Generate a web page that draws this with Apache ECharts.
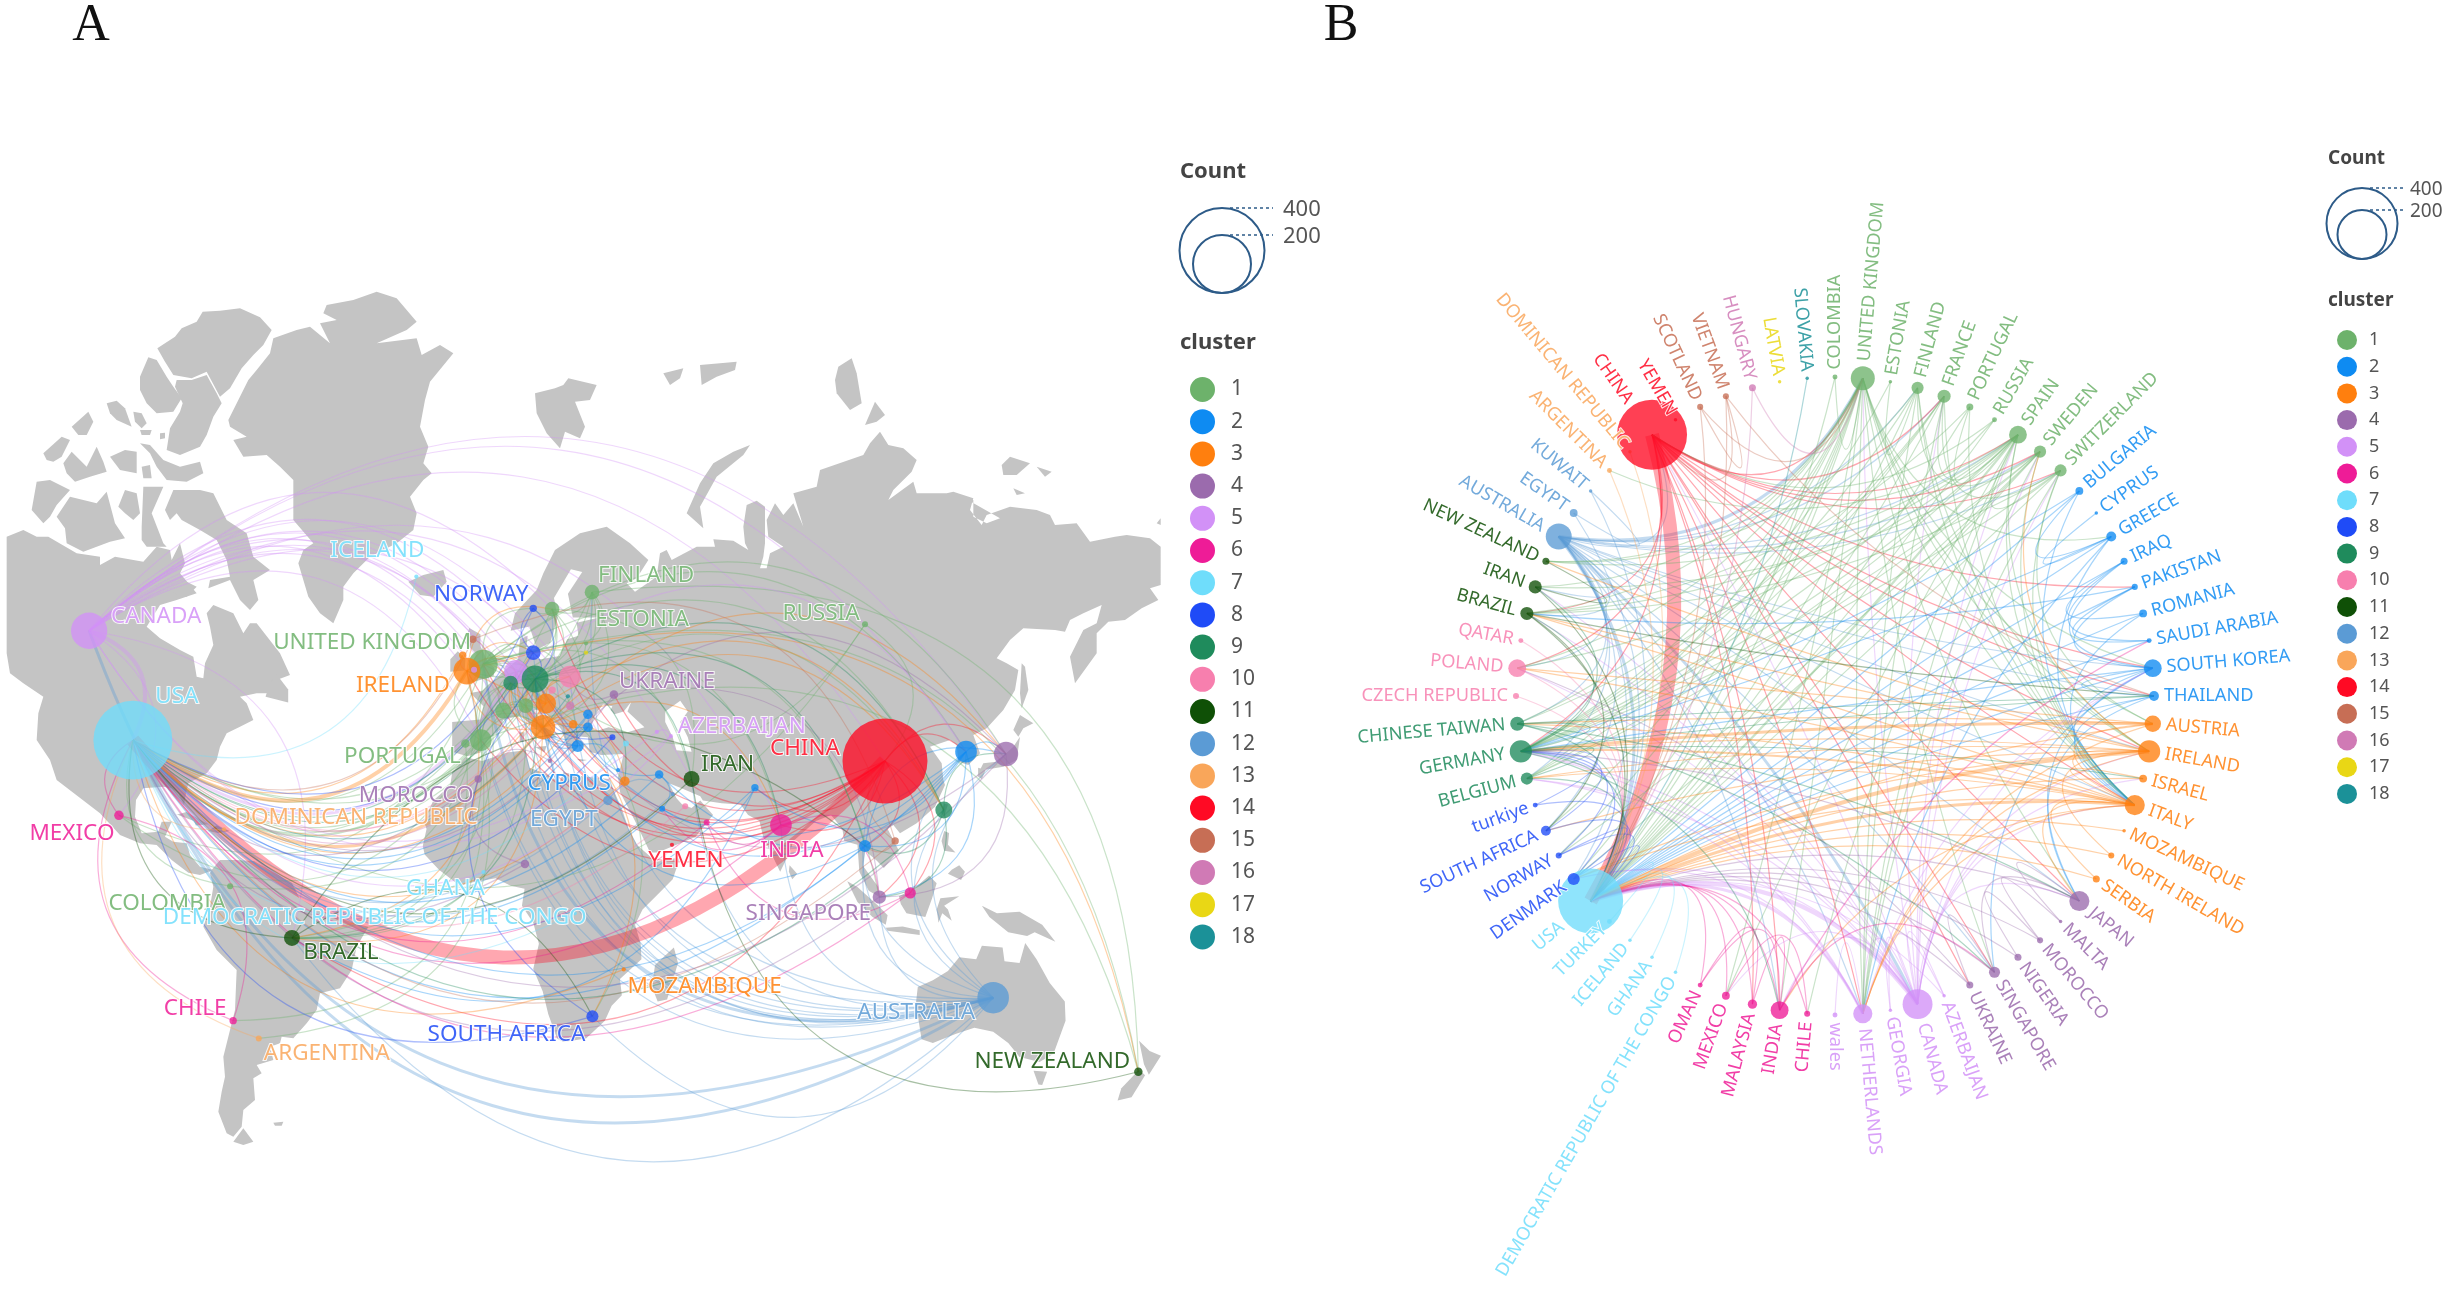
<!DOCTYPE html>
<html>
<head>
<meta charset="utf-8">
<title>Country collaboration network</title>
<style>
  html, body { margin: 0; padding: 0; background: #fff; }
  #chart { width: 2451px; height: 1291px; }
</style>
<script src="https://cdn.jsdelivr.net/npm/echarts@6/dist/echarts.min.js"></script>
</head>
<body>
<div id="chart"></div>
<script>
// countries, in the order they sit on the ring of panel B
const countryNames = ["COLOMBIA","UNITED KINGDOM","ESTONIA","FINLAND","FRANCE","PORTUGAL","RUSSIA","SPAIN","SWEDEN","SWITZERLAND",
  "BULGARIA","CYPRUS","GREECE","IRAQ","PAKISTAN","ROMANIA","SAUDI ARABIA","SOUTH KOREA","THAILAND",
  "AUSTRIA","IRELAND","ISRAEL","ITALY","MOZAMBIQUE","NORTH IRELAND","SERBIA",
  "JAPAN","MALTA","MOROCCO","NIGERIA","SINGAPORE","UKRAINE",
  "AZERBAIJAN","CANADA","GEORGIA","NETHERLANDS","wales",
  "CHILE","INDIA","MALAYSIA","MEXICO","OMAN",
  "DEMOCRATIC REPUBLIC OF THE CONGO","GHANA","ICELAND","TURKEY","USA",
  "DENMARK","NORWAY","SOUTH AFRICA","turkiye",
  "BELGIUM","GERMANY","CHINESE TAIWAN",
  "CZECH REPUBLIC","POLAND","QATAR",
  "BRAZIL","IRAN","NEW ZEALAND",
  "AUSTRALIA","EGYPT","KUWAIT",
  "ARGENTINA","DOMINICAN REPUBLIC",
  "CHINA","YEMEN",
  "SCOTLAND","VIETNAM",
  "HUNGARY","LATVIA","SLOVAKIA"];
const countryCluster = [1,1,1,1,1,1,1,1,1,1, 2,2,2,2,2,2,2,2,2, 3,3,3,3,3,3,3, 4,4,4,4,4,4, 5,5,5,5,5, 6,6,6,6,6, 7,7,7,7,7, 8,8,8,8, 9,9,9, 10,10,10, 11,11,11, 12,12,12, 13,13, 14,14, 15,15, 16,17,18];
const countryCount = [2,47,1,12,14,4,2,26,12,12, 5,1,8,4,3,5,2,26,8, 22,40,5,33,1,3,4, 33,1,3,4,10,4, 1,73,1,30,2, 3,26,7,5,2, 1,1,1,2,345, 12,3,8,2, 12,40,16, 3,26,2, 14,14,4, 55,5,1, 2,1, 400,1, 3,3, 4,1,1];
const countryLon = [-68.4,-1.3,26,27.6,4,-6,100,-1.9,17,10, 26.5,34.5,23.8,45.4,70.8,26.5,46.2,126.8,100, 15.4,-5.6,36.3,14.6,36,-6.7,22.6, 137.4,16.4,-2.6,9.8,103.8,33.4, 48.5,-105.8,44.8,7.4,-3.7, -67.6,77.7,112,-97.9,58, 23,-1.2,-19,36.6,-94.2, 12,12,27.7,33, 6,12.5,120.9, 17,21.7,52.3, -52,54,172.5, 134,31.8,49, -60.8,-70, 105.3,48.8, -4,108, 21.8,26,21.2];
const countryLat = [4.2,53.2,56.4,63.2,45.2,38.7,59.1,39.4,61.1,46.1, 42,33,38.2,32,29,44.5,24,37,14.7, 46.5,52.1,30.5,42,-17.6,54.6,42.6, 36.5,35,31,10,1.3,48.1, 40.2,58.2,41.1,52,52.3, -30,20,2.4,22.4,20.6, -3,7.9,65,38.7,39.4, 55,61.2,-29,40, 50.1,50.8,23.7, 48.9,51.2,24.6, -9.5,31,-41, -24.6,26,27.5, -34,18.9, 35,15, 57,16, 46.1,55,47.8];

const clusterNames = ["1","2","3","4","5","6","7","8","9","10","11","12","13","14","15","16","17","18"];
const clusterColors = ["#6DB26B","#0E8BF2","#FF7F0E","#9B6BAD","#D291F7","#EE1C97","#6FDDFB","#1F4BF7","#1F8B5C","#F77FAE","#0F5006","#5B9BD5","#F9A65A","#FF0A24","#C76E55","#D07AB5","#E9D715","#1B9198"];

// collaboration links: each list holds the partners of one country, coloured by that country
const UK = "UNITED KINGDOM", DE = "GERMANY", IT = "ITALY", ES = "SPAIN", NL = "NETHERLANDS", CA = "CANADA", AU = "AUSTRALIA", FR = "FRANCE", KR = "SOUTH KOREA", JP = "JAPAN", CN = "CHINA", US = "USA", IE = "IRELAND", CH = "SWITZERLAND", SE = "SWEDEN", BR = "BRAZIL", DK = "DENMARK", BE = "BELGIUM", AT = "AUSTRIA", PL = "POLAND", TW = "CHINESE TAIWAN", SG = "SINGAPORE", IN = "INDIA", TH = "THAILAND", ZA = "SOUTH AFRICA", FI = "FINLAND", NO = "NORWAY", IR = "IRAN", NZ = "NEW ZEALAND";
const toAustralia = [US,UK,CA,CN,DE,IT,ES,NL,IE,BR,JP,KR,FI,SE,FR,CH,ZA,DK,TH,TW,SG,IN,IR,PL,BE];
const toCanada = [US,UK,CN,DE,IT,NL,IE,ES,FR,SE,CH,JP,KR,BR,IR,DK,BE,PL,"MEXICO",IN,"ISRAEL"];
const toChina = [US,UK,DE,IT,ES,SE,CH,KR,TH,JP,SG,"PAKISTAN",NL,IE,IN,PL,BR,"UKRAINE","MALAYSIA",FR];
const toUK = [US,DE,IT,IE,NL,DK,BE,AT,ZA,NZ,BR,IR,TW,JP,KR,IN,NO,PL,SG,"GREECE","MEXICO","COLOMBIA"];
const toSpain = [US,DE,IT,IE,NL,BR,"ARGENTINA","CHILE","MEXICO","PORTUGAL",FR,CH,BE,PL,NZ];
const toFinland = [US,DE,IT,SE,NL,IE,"ESTONIA",NZ];
const toFrance = [US,DE,IT,NL,BE,CH,TW];
const toSweden = [US,DE,IT,NL,NO,DK,BE,IR];
const toSwitzerland = [US,DE,IT,AT,NL,BR];
const toPortugal = [US,IT,BR];
const toRussia = [CN,DE,US];
const toColombia = [US];
const toEstonia = [DE];
const toSouthKorea = [US,IT,DE,TH,"PAKISTAN","IRAQ",JP,SG];
const toThailand = [US,JP,IT];
const toGreece = [US,IT,DE,"CYPRUS",NL,"BULGARIA"];
const toBulgaria = [US,DE,IT];
const toIraq = [US,"SAUDI ARABIA","ROMANIA"];
const toPakistan = [BR,US,"SAUDI ARABIA"];
const toRomania = [US,IT];
const toSaudi = [US];
const toItaly = [US,DE,NL,CH,IE,AT,DK,BE,JP,BR,"ISRAEL",IN,PL,TW,"SERBIA"];
const toIreland = [US,DE,NL,SE,BE,"NORTH IRELAND",NZ,ZA,BR,DK];
const toAustria = [US,DE,CH,NL,PL,TW];
const toIsrael = [US];
const toMozambique = [US];
const toNorthIreland = [US];
const toSerbia = [US];
const toJapan = [US,DE,SG];
const toSingapore = [US];
const toMorocco = [US,"MALTA"];
const toNigeria = [US,"MOROCCO"];
const toUkraine = [US,SG,PL];
const toMalta = [JP];
const toNetherlands = [US,DE,BE,FR,SE,CH,DK,KR];
const toGeorgia = [CA,"AZERBAIJAN"];
const toAzerbaijan = [CA,US];
const toWales = [NL];
const toIndia = [US,"MALAYSIA","OMAN",SG,"SAUDI ARABIA"];
const toMexico = [US,"CHILE"];
const toMalaysia = [US,"OMAN"];
const toChile = [US];
const toOman = [US];
const toCongo = [US];
const toGhana = [US];
const toIceland = [US];
const toTurkey = [US];
const toDenmark = [US,DE,SE,NO];
const toNorway = [US,DE];
const toSouthAfrica = [US,DE];
const toTurkiye = [US,DE];
const toGermany = [US,BE,JP,KR,BR,IN,"ISRAEL",IR,TW,"GREECE","RUSSIA",NO,TH];
const toBelgium = [US,NL];
const toTaiwan = [US,JP,TH,SG];
const toPoland = [US];
const toCzech = [US];
const toQatar = [US];
const toBrazil = [US,TH,ZA,"PAKISTAN"];
const toIran = [US,SE];
const toNewZealand = [IR];
const toEgypt = [US,"KUWAIT"];
const toKuwait = [US];
const toArgentina = [US];
const toDominican = [US];
const toScotland = [US,UK,"VIETNAM"];
const toVietnam = [CN,US,TH];
const toHungary = [US,UK];
const toSlovakia = [US];
const linkLists = [[AU,toAustralia],[CA,toCanada],[CN,toChina],[UK,toUK],[ES,toSpain],[FI,toFinland],[FR,toFrance],[SE,toSweden],[CH,toSwitzerland],["PORTUGAL",toPortugal],["RUSSIA",toRussia],["COLOMBIA",toColombia],["ESTONIA",toEstonia],
  [KR,toSouthKorea],[TH,toThailand],["GREECE",toGreece],["BULGARIA",toBulgaria],["IRAQ",toIraq],["PAKISTAN",toPakistan],["ROMANIA",toRomania],["SAUDI ARABIA",toSaudi],
  [IT,toItaly],[IE,toIreland],[AT,toAustria],["ISRAEL",toIsrael],["MOZAMBIQUE",toMozambique],["NORTH IRELAND",toNorthIreland],["SERBIA",toSerbia],
  [JP,toJapan],[SG,toSingapore],["MOROCCO",toMorocco],["NIGERIA",toNigeria],["UKRAINE",toUkraine],["MALTA",toMalta],
  [NL,toNetherlands],["GEORGIA",toGeorgia],["AZERBAIJAN",toAzerbaijan],["wales",toWales],
  [IN,toIndia],["MEXICO",toMexico],["MALAYSIA",toMalaysia],["CHILE",toChile],["OMAN",toOman],
  ["DEMOCRATIC REPUBLIC OF THE CONGO",toCongo],["GHANA",toGhana],["ICELAND",toIceland],["TURKEY",toTurkey],
  [DK,toDenmark],[NO,toNorway],[ZA,toSouthAfrica],["turkiye",toTurkiye],
  [DE,toGermany],[BE,toBelgium],[TW,toTaiwan],[PL,toPoland],["CZECH REPUBLIC",toCzech],["QATAR",toQatar],
  [BR,toBrazil],[IR,toIran],[NZ,toNewZealand],["EGYPT",toEgypt],["KUWAIT",toKuwait],
  ["ARGENTINA",toArgentina],["DOMINICAN REPUBLIC",toDominican],["SCOTLAND",toScotland],["VIETNAM",toVietnam],["HUNGARY",toHungary],["SLOVAKIA",toSlovakia]];
// links stronger than one paper: partner, country, strength
const heavyPartner = [US,US,US,US,US,US,UK,DE,US,DE,CA];
const heavyCountry = [CN,IE,IT,CA,NL,AU,AU,AT,ES,IT,AU];
const heavyStrength = [14,4,3,4,3,3,3,3,2.2,2.2,3];

// panel A projection: Mercator fitted to the reference map
const project = ([lon, lat]) => [488 + 3.77 * lon, 902 - 216 * Math.log(Math.tan(Math.PI / 4 + lat * Math.PI / 360))];
const unproject = ([x, y]) => [(x - 488) / 3.77, (2 * Math.atan(Math.exp((902 - y) / 216)) - Math.PI / 2) * 180 / Math.PI];
const traced = (ox, oy, pts) => pts.map(([zx, zy]) => unproject([ox + zx / 3, oy + zy / 3]));

const landNorthAmerica = traced(0, 280, [[20,770],[70,750],[110,770],[145,770],[230,820],[300,830],[300,855],[345,830],[430,845],[470,800],[510,810],[515,840],[540,790],[555,850],[540,880],[590,940],[530,960],[480,975],[440,1040],[480,1075],[540,1110],[580,1130],[590,1190],[610,1195],[615,1150],[640,1095],[630,1040],[620,1000],[640,975],[700,1000],[730,1060],[750,1030],[770,1030],[840,1120],[870,1185],[830,1200],[800,1240],[770,1240],[720,1250],[740,1270],[760,1320],[720,1340],[680,1360],[660,1400],[650,1440],[620,1480]])
  .concat(traced(100, 780, [[265,10],[258,40],[252,75],[235,40],[215,25],[190,20],[130,25],[108,60],[105,110],[125,160],[175,155],[185,125],[215,125],[195,170],[220,185],[260,190],[270,225],[300,260],[340,270],[300,285],[265,278],[215,240],[170,195],[120,190],[60,165],[0,100]]))
  .concat(traced(0, 280, [[170,1500],[150,1440],[110,1380],[115,1300],[130,1250],[70,1210],[30,1180],[20,1120]]));
const landGreenland = traced(0, 280, [[685,420],[745,300],[770,270],[810,220],[820,175],[890,150],[930,140],[990,190],[960,130],[1010,120],[970,100],[980,75],[1060,60],[1130,35],[1190,55],[1250,125],[1220,150],[1130,190],[1250,175],[1265,225],[1320,195],[1360,220],[1290,305],[1275,360],[1260,440],[1285,500],[1270,550],[1295,580],[1270,600],[1230,650],[1250,700],[1240,750],[1190,790],[1110,830],[1060,880],[1030,920],[1030,960],[1000,1030],[960,1000],[925,950],[895,850],[910,810],[940,790],[880,720],[880,600],[840,560],[800,525],[730,530],[700,480],[740,470],[690,440]]);
const landArcticCanada = [
  [[472,205],[525,170],[545,145],[590,125],[608,95],[660,92],[720,85],[780,112],[815,150],[790,195],[760,225],[725,265],[690,325],[660,350],[620,275],[575,295],[520,285],[495,245]],
  [[530,300],[575,300],[620,285],[650,340],[665,370],[640,410],[620,465],[600,500],[540,525],[500,510],[510,445],[540,395],[548,370],[525,320]],
  [[420,290],[445,232],[470,240],[500,290],[520,320],[545,355],[520,395],[470,400],[440,370],[420,330]],
  [[320,370],[350,362],[375,385],[395,440],[350,420],[330,400]],
  [[400,395],[425,400],[440,430],[425,445],[405,425]],
  [[420,450],[455,450],[450,465],[425,465]],
  [[480,460],[495,458],[495,475],[480,478]],
  [[215,440],[265,395],[280,425],[260,465],[235,465]],
  [[130,520],[185,470],[210,480],[185,530],[160,545],[140,540]],
  [[190,550],[215,515],[260,560],[290,500],[310,545],[320,575],[270,590],[225,605],[200,580]],
  [[330,530],[375,510],[410,515],[410,580],[360,570]],
  [[420,490],[450,495],[490,540],[540,560],[600,545],[610,580],[560,605],[500,600],[470,560],[450,520]],
  [[425,560],[450,555],[455,595],[430,595]],
  [[95,690],[110,605],[150,600],[210,630],[170,675],[150,710],[130,730]],
  [[170,710],[210,650],[290,670],[320,635],[345,730],[375,775],[330,785],[250,815],[200,790],[195,745]],
  [[355,680],[375,630],[410,640],[420,700],[400,720],[375,700]],
  [[425,740],[430,620],[490,620],[455,700],[490,790],[500,800],[440,800],[425,780]],
  [[495,690],[520,630],[600,630],[640,640],[680,720],[740,760],[760,830],[810,870],[760,900],[775,960],[750,990],[720,960],[690,900],[625,925],[630,900],[690,890],[680,840],[650,780],[600,750],[545,720],[530,700],[510,720]],
  [[530,890],[590,920],[560,950],[520,940]],
  [[1225,905],[1270,885],[1330,870],[1340,905],[1300,950],[1260,945]]
].map((ring) => traced(0, 280, ring));
const landNewfoundland = [[-59,47.7],[-53,46.7],[-53,49],[-56,51.5],[-58,50]];
const landSouthAmerica = traced(100, 780, [[335,270],[360,240],[405,240],[462,243],[576,309],[598,354],[666,393],[762,429],[805,440],[770,500],[755,570],[720,625],[660,640],[650,690],[620,730],[580,775],[545,770],[540,790],[510,800],[520,840],[470,855],[485,880],[460,895],[465,960],[430,990],[425,1040],[400,1070],[380,1060],[355,995],[365,935],[375,890],[370,830],[385,770],[405,690],[410,570],[350,510],[310,440],[330,380],[340,320],[330,280]]);
const landFuego = traced(100, 780, [[400,1085],[430,1045],[460,1085],[430,1095]]);
const landFalkland = traced(100, 780, [[520,1028],[550,1025],[545,1037],[525,1037]]);
const landAfrica = [[-6,35.8],[-1.5,35],[5,36.8],[10,37.3],[11,33.5],[15,32.3],[19,30.3],[20,32.5],[25,31.6],[32,31],[32.5,30],[35.5,24],[37.3,19],[39.5,15],[43,12],[44,10.5],[51,11.8],[49,6],[45,2],[41,-2],[39,-6],[40.5,-11],[40.7,-15],[35,-20],[35.5,-24],[32.8,-26.5],[31,-30],[26,-34],[20,-34.8],[18.3,-34],[16,-28.5],[14.5,-23],[12,-17.5],[13.5,-11],[12,-5.5],[9,-1],[9.7,3.5],[6,4.3],[2,6.3],[-4,5.2],[-7.5,4.3],[-13,8.5],[-16.8,12.5],[-17.3,14.7],[-16.3,19],[-17,21],[-14.5,26],[-10,29.5],[-9.5,32.5]];
const landMadagascar = [[49.3,-12],[50.4,-16],[47.5,-25],[45,-25.5],[43.5,-22],[44.3,-16.5]];
const eurasiaWest = [[-9.5,37],[-9.5,43],[-2,43.5],[-1.2,46],[-4.7,48.4],[-1.5,48.8],[1.5,50.5],[4,52],[8,54],[8.5,57],[10.5,57.5],[10,54.5],[14,54],[19,54.5],[21,57],[24,57.5],[23.5,59.3],[29.5,60],[22.5,60],[21.2,63],[25,65.5],[22,65.8],[17.5,62.5],[18.5,60],[16.5,56.5],[13,55.5],[11,58.8],[6,58.2]];
const eurasiaArctic = traced(500, 330, [[45,850],[110,780],[130,730],[165,660],[240,610],[320,590],[390,640],[445,690],[410,745],[380,760],[405,785],[470,740],[480,670],[500,660],[515,690],[590,650],[645,650],[640,628],[700,632],[745,660],[735,640],[730,590],[740,525],[770,512],[795,530],[795,640],[790,680],[780,715],[800,715],[810,670],[850,650],[805,620],[800,570],[825,520],[850,555],[880,520],[910,590],[880,490],[950,470],[960,420],[1090,375],[1110,340],[1140,305],[1165,345],[1210,355],[1250,390],[1235,425],[1180,480],[1165,510],[1240,455],[1250,490],[1340,490],[1360,485],[1420,510],[1420,560],[1460,580],[1500,565]]);
const eurasiaEast = traced(750, 400, [[610,275],[670,295],[660,330],[695,375],[710,345],[780,320],[860,330],[900,345],[915,375],[980,370],[1020,425],[1095,410],[1130,405],[1200,415],[1232,440],[1232,555],[1200,565],[1225,600],[1175,625],[1125,660],[1075,665],[1040,700],[1040,760],[975,850],[960,770],[1000,690],[1040,670],[1055,615],[1000,640],[960,660],[945,695],[915,690],[820,685],[780,720],[740,775],[770,790],[805,810],[795,870],[760,930],[710,985],[670,1005],[690,1060],[655,1095],[625,1085],[620,1035],[600,1020],[540,1040],[575,1090],[580,1140],[585,1155],[555,1220],[500,1270],[450,1300],[430,1275]]);
const eurasiaSouth = [[106,19],[109,13.5],[105,9],[103,11],[100,13.5],[99.5,9.5],[103.5,4],[103.5,1.5],[101,3],[98.5,8],[98,15],[94.5,16],[94,19],[91,22.5],[87,21],[81,16],[80,13],[77.5,8],[73,17],[72,21],[69,22.5],[67,25],[62,25.3],[57,26],[56.3,27],[51,29],[48,30],[50,26.5],[51.5,25],[54,24.2],[56.3,26],[59.7,22.5],[55,17],[45,13],[43,13],[39,21],[35,28],[34.5,31.5],[36,36.5],[30,36.3],[27,37],[26.5,40],[23.5,40.2],[24,38],[22.5,36.7],[21,38],[19.5,41.5],[18.5,42.5],[14,45.5],[12.3,45.2],[13,43.5],[18.3,40],[16.5,39.8],[16,38],[15.7,40],[12,42],[8.8,44.3],[4,43.4],[3.2,41.5],[0,39.5],[-2,36.8],[-5.5,36]];
const landEurasia = eurasiaWest.concat(eurasiaArctic, eurasiaEast, eurasiaSouth);
const seaBlack = [[28,41.5],[27.5,42.5],[28.5,44.5],[30.5,46.3],[33,46],[32.5,45.3],[33.5,44.5],[36,45],[38,46.8],[37,45],[41.5,42],[37,41],[32,42],[29,41.3]];
const seaCaspian = [[47,45],[51,47],[53,45],[51,43],[53,40],[54,37],[50,37.3],[49,40],[47,43]];
const landRussianArctic = [
  traced(500, 330, [[105,190],[165,175],[190,165],[205,145],[290,165],[270,210],[225,215],[255,290],[240,325],[195,305],[180,355],[140,310],[110,250]]),
  traced(500, 330, [[490,130],[550,115],[540,145],[510,165]]),
  traced(500, 330, [[600,105],[660,100],[710,95],[705,120],[650,140],[605,165]]),
  traced(500, 330, [[750,345],[700,365],[640,400],[600,460],[560,550],[610,595],[600,530],[650,440],[730,375]]),
  traced(500, 330, [[1015,110],[1055,85],[1070,130],[1085,220],[1050,240],[1010,190],[1005,150]]),
  traced(500, 330, [[1095,285],[1125,215],[1155,255],[1130,275]]),
  traced(750, 400, [[755,195],[780,170],[840,190],[800,225],[760,225]]),
  traced(750, 400, [[860,200],[905,215],[885,230]]),
  traced(750, 400, [[790,265],[825,280],[800,285]]),
  traced(750, 400, [[1220,370],[1232,355],[1232,375]]),
  traced(750, 400, [[815,790],[825,800],[835,870],[815,925],[810,880]]),
  traced(750, 400, [[790,990],[810,945],[850,970],[820,985],[805,1010]]),
  traced(750, 400, [[680,1130],[700,1090],[740,1085],[790,1040],[810,1010],[800,1080],[760,1100],[700,1110]])
];
const landIslands = [
  [[-5.5,50],[1.5,51.3],[1.7,52.7],[0,53.5],[-2,56],[-2,57.7],[-5,58.6],[-6,56.5],[-3,54.8],[-4.5,53.2],[-5,51.7]],
  [[-10,52],[-6.2,52.2],[-6,54],[-8,55.2],[-10,54]],
  [[130,33.5],[132,33],[131,31],[130,31.5]],
  [[120.2,23],[121,22],[122,25],[121,25.2]],
  [[109,19],[111,20],[109.5,18.2]],
  [[120.3,16],[121,18.5],[122.3,18],[122,15],[124,13],[121,13.5]],
  [[122,7.5],[125.5,5.8],[126.5,8],[125,9.7],[123,8.5]],
  [[109,1.5],[111,2.5],[113,3.5],[117,7],[119,5],[117.8,1],[116,-4],[111,-3],[109.5,-0.5]],
  [[95.3,5.5],[98,4],[103.5,-1],[106,-3.5],[105.5,-6],[102,-4],[98,0]],
  [[105.5,-6.8],[110,-6.5],[114.5,-7.5],[114.5,-8.7],[106,-7.6]],
  [[119.5,-5.5],[120.5,-3],[123,-5],[122,-2],[121,-1],[125,1.5],[120,1],[119,-2]],
  [[131,-1],[135,-3],[141,-2.6],[147,-6],[150.5,-10.5],[145,-8],[143,-9],[138,-8],[133,-4]],
  [[80,9.7],[82,7.5],[80.7,6],[79.8,8]],
  [[114,-22],[113.5,-26],[115,-34.2],[118,-35],[124,-33],[129,-31.6],[134,-32.5],[138,-35],[141,-38],[146.3,-39],[150,-37.3],[153.2,-30],[153,-25.5],[149,-21],[145.5,-15],[142.5,-10.8],[141,-16],[137,-15.5],[136.5,-12],[131,-11.5],[129.5,-15],[125,-14.5],[122,-18],[118,-20.3]],
  [[144.7,-40.8],[148.3,-41],[147,-43.6],[146,-43.5]],
  [[172.7,-34.5],[175.5,-36.7],[178.5,-37.7],[175.3,-41.6],[174,-39.5]],
  [[172.7,-40.6],[174.3,-41.7],[170.7,-45.9],[167,-46.5],[168,-44.2]],
  [[-84.8,22],[-80,23.2],[-74.2,20.2],[-77.5,19.9],[-78,21],[-82.5,22.6]],
  [[-74.3,18.5],[-72,19.9],[-68.5,18.5],[-71.5,18]],
  [[8.3,41],[9.7,41],[9.5,39],[8.5,39]],
  [[12.5,38],[15.5,38.2],[15,36.8]],
  [[23.6,35.5],[26.3,35.2],[24.5,34.9]]
];

// labels drawn on the map, with where each sits relative to its country (px)
const mapLabelNames = ["ICELAND","NORWAY","FINLAND","ESTONIA","RUSSIA","CANADA","USA","UNITED KINGDOM","IRELAND","PORTUGAL","UKRAINE","AZERBAIJAN","IRAN","CHINA","CYPRUS","EGYPT","MOROCCO","DOMINICAN REPUBLIC","MEXICO","COLOMBIA","GHANA","DEMOCRATIC REPUBLIC OF THE CONGO","YEMEN","INDIA","SINGAPORE","MOZAMBIQUE","BRAZIL","CHILE","ARGENTINA","SOUTH AFRICA","AUSTRALIA","NEW ZEALAND"];
const mapLabelShift = [[-39,-26],[-52,-14],[54,-17],[56,-24],[-44,-11],[67,-14],[44,-44],[-111,-22],[-64,14],[-63,13],[53,-13],[71,-10],[36,-14],[-80,-12],[-49,14],[-44,19],[-62,17],[132,-12],[-47,18],[-63,17],[-38,16],[-200,4],[14,16],[11,26],[-71,16],[81,17],[49,15],[-38,-12],[68,15],[-86,18],[-77,15],[-86,-10]];

const polygon = (name, rings) => ({ type: "Feature", properties: { name: name }, geometry: { type: "Polygon", coordinates: rings } });
const closed = (ring) => ring.concat([ring[0]]);
const singleLand = [landNorthAmerica, landGreenland, landNewfoundland, landSouthAmerica, landFuego, landFalkland, landAfrica, landMadagascar].concat(landArcticCanada, landRussianArctic, landIslands);
echarts.registerMap("land", {
  type: "FeatureCollection",
  features: singleLand.map((ring, i) => polygon("land" + i, [closed(ring)]))
    .concat([polygon("eurasia", [closed(landEurasia)]), polygon("black", [closed(seaBlack)]), polygon("caspian", [closed(seaCaspian)])])
});

const colorOf = (name) => clusterColors[countryCluster[countryNames.indexOf(name)] - 1];
const categories = clusterNames.map((n, i) => ({ name: n, itemStyle: { color: clusterColors[i] } }));

// one entry per pair of countries
const seen = new Set();
const links = [];
linkLists.forEach(([target, partners]) => {
  partners.forEach((source) => {
    const key = [source, target].sort().join("|");
    if (seen.has(key) || source === target) return;
    seen.add(key);
    const h = heavyPartner.findIndex((p, i) => p === source && heavyCountry[i] === target);
    links.push({ source, target, width: h >= 0 ? heavyStrength[h] : 1.2 });
  });
});

const ringRadius = 319;
const ringStep = 5;

// panel B: curve every link toward the ring centre
const ringCurve = (source, target) => {
  let delta = (countryNames.indexOf(target) - countryNames.indexOf(source)) * ringStep;
  delta = ((delta + 540) % 360) - 180;
  if (delta === -180 || delta === 180) return 0;
  return -0.45 / (2 * Math.tan(delta * Math.PI / 360));
};

const ringNodes = countryNames.map((name, i) => {
  const size = 3.5 * Math.sqrt(countryCount[i]);
  const theta = -90 + ringStep * i;
  const right = i <= 36;
  const gap = size / 2 + 5;
  return {
    name,
    value: [1, i],
    category: countryCluster[i] - 1,
    symbolSize: size,
    label: {
      rotate: right ? -theta : 180 - theta,
      align: right ? "left" : "right",
      offset: [right ? gap : -gap, 0],
      color: clusterColors[countryCluster[i] - 1]
    }
  };
});

const mapNodes = countryNames.map((name, i) => {
  const at = mapLabelNames.indexOf(name);
  return {
    name,
    value: [countryLon[i], countryLat[i], countryCount[i]],
    category: countryCluster[i] - 1,
    symbolSize: 4.25 * Math.sqrt(countryCount[i]),
    label: at < 0 ? { show: false } : { show: true, offset: mapLabelShift[at], color: clusterColors[countryCluster[i] - 1] }
  };
});

const edgeStyle = (l, curve) => ({
  source: l.source,
  target: l.target,
  lineStyle: { color: colorOf(l.target), width: l.width, curveness: curve, opacity: 0.36 }
});

// legend helpers, drawn in page pixels
const sizeLegend = (x, top, outerD, innerD, lineEnd, textX, fontSize) => {
  const bottom = top + outerD;
  return [
    { type: "circle", shape: { cx: x, cy: bottom - outerD / 2, r: outerD / 2 }, style: { fill: "none", stroke: "#2D5B88", lineWidth: 2 } },
    { type: "circle", shape: { cx: x, cy: bottom - innerD / 2, r: innerD / 2 }, style: { fill: "none", stroke: "#2D5B88", lineWidth: 2 } },
    { type: "line", shape: { x1: x + 8, y1: top, x2: lineEnd, y2: top }, style: { stroke: "#2D5B88", lineWidth: 1.5, lineDash: [3, 3] } },
    { type: "line", shape: { x1: x + 8, y1: bottom - innerD, x2: lineEnd, y2: bottom - innerD }, style: { stroke: "#2D5B88", lineWidth: 1.5, lineDash: [3, 3] } },
    { type: "text", x: textX, y: top + 1.5, style: { text: "400", fill: "#555", fontFamily: "Noto Sans", fontSize, verticalAlign: "middle" } },
    { type: "text", x: textX, y: bottom - innerD + 1.5, style: { text: "200", fill: "#555", fontFamily: "Noto Sans", fontSize, verticalAlign: "middle" } }
  ];
};
const heading = (x, y, text, fontSize) => ({ type: "text", x, y, style: { text, fill: "#444", fontFamily: "Noto Sans", fontWeight: "bold", fontSize, verticalAlign: "middle" } });
const panelLetter = (x, y, text) => ({ type: "text", x, y, style: { text, fill: "#111", fontFamily: "Liberation Serif", fontSize: 52, align: "center", verticalAlign: "middle" } });

const chart = echarts.init(document.getElementById("chart"), null, { renderer: "canvas" });
chart.setOption({
  animation: false,
  backgroundColor: "#fff",
  geo: {
    map: "land",
    silent: true,
    roam: false,
    aspectScale: 1,
    left: 0, top: 0, width: 2451, height: 1291,
    projection: { project, unproject },
    boundingCoords: [unproject([0, 0]), unproject([2451, 1291])],
    itemStyle: { areaColor: "#C4C4C4", borderWidth: 0 },
    regions: [
      { name: "black", itemStyle: { areaColor: "#fff" } },
      { name: "caspian", itemStyle: { areaColor: "#fff" } }
    ],
    label: { show: false },
    emphasis: { disabled: true }
  },
  polar: { center: [1835, 696], radius: ringRadius },
  angleAxis: { type: "category", data: countryNames, boundaryGap: false, startAngle: 90, show: false },
  radiusAxis: { min: 0, max: 1, show: false },
  legend: [
    { data: clusterNames, orient: "vertical", left: 1185, top: 372, icon: "circle", itemWidth: 25, itemHeight: 25, itemGap: 7.2, selectedMode: false, itemStyle: { opacity: 1 }, textStyle: { fontSize: 21, color: "#555", fontFamily: "Noto Sans", padding: [0, 0, 0, 11] } },
    { data: clusterNames, orient: "vertical", left: 2332, top: 325, icon: "circle", itemWidth: 20, itemHeight: 20, itemGap: 6.7, selectedMode: false, itemStyle: { opacity: 1 }, textStyle: { fontSize: 18, color: "#555", fontFamily: "Noto Sans", padding: [0, 0, 0, 7] } }
  ],
  graphic: { elements: [
    panelLetter(91, 26, "A"),
    panelLetter(1341, 26, "B"),
    heading(1180, 172, "Count", 22),
    heading(1180, 343, "cluster", 22),
    heading(2328, 159, "Count", 19),
    heading(2328, 301, "cluster", 19)
  ].concat(sizeLegend(1222, 208, 85, 58, 1273, 1283, 22), sizeLegend(2362, 188, 71, 49, 2403, 2410, 19)) },
  series: [
    {
      name: "map",
      type: "graph",
      coordinateSystem: "geo",
      geoIndex: 0,
      silent: true,
      categories,
      data: mapNodes,
      links: links.map((l) => edgeStyle(l, -0.55)),
      itemStyle: { opacity: 0.78 },
      label: { show: false, position: "inside", align: "center", verticalAlign: "middle", fontFamily: "Noto Sans", fontSize: 22.5, textBorderColor: "#fff", textBorderWidth: 2, opacity: 0.85 },
      emphasis: { disabled: true },
      z: 3
    },
    {
      name: "ring",
      type: "graph",
      coordinateSystem: "polar",
      silent: true,
      categories,
      data: ringNodes,
      links: links.map((l) => edgeStyle(l, ringCurve(l.source, l.target))),
      itemStyle: { opacity: 0.78 },
      label: { show: true, position: "inside", verticalAlign: "middle", fontFamily: "Noto Sans", fontSize: 18.2, textBorderColor: "#fff", textBorderWidth: 2, opacity: 0.85 },
      emphasis: { disabled: true },
      z: 3
    }
  ]
});
</script>
</body>
</html>
